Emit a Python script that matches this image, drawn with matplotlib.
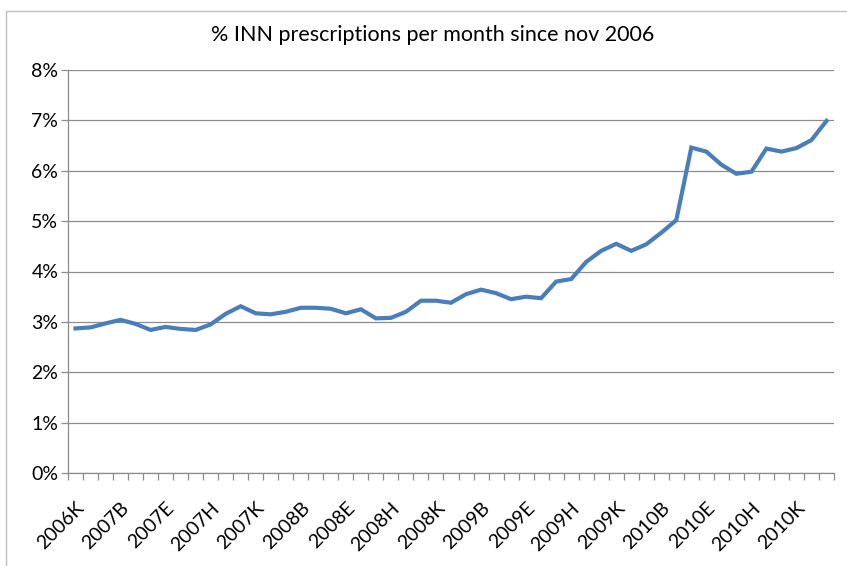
import matplotlib.pyplot as plt
from matplotlib.patches import Rectangle
from matplotlib.ticker import FuncFormatter

# month codes: letter A..L = jan..dec, series starts nov 2006
years = [2006] * 2 + [2007] * 12 + [2008] * 12 + [2009] * 12 + [2010] * 12 + [2011]
letters = list("KL") + list("ABCDEFGHIJKL") * 4 + ["A"]
months = [str(y) + l for y, l in zip(years, letters)]

# % of INN prescriptions
inn_pct = [2.87, 2.89, 2.97, 3.04, 2.96, 2.84, 2.90, 2.86, 2.84, 2.95,
           3.16, 3.31, 3.17, 3.15, 3.20, 3.28, 3.28, 3.26, 3.17, 3.25,
           3.07, 3.08, 3.20, 3.42, 3.42, 3.38, 3.55, 3.64, 3.57, 3.45,
           3.50, 3.47, 3.80, 3.85, 4.19, 4.41, 4.55, 4.41, 4.54, 4.77,
           5.02, 6.46, 6.38, 6.12, 5.94, 5.98, 6.44, 6.38, 6.45, 6.61,
           6.99]

title = "% INN prescriptions per month since nov 2006"

plt.rcParams['font.family'] = ['Lato', 'DejaVu Sans']
grey = "#8c8c8c"

fig = plt.figure(figsize=(8.47, 5.66), dpi=100)
ax = fig.add_axes([68 / 847, 1 - 473 / 566, (834 - 68) / 847, (473 - 70) / 566])

x = list(range(len(inn_pct)))
ax.plot(x, inn_pct, color="#4a7ebb", linewidth=3.0, solid_joinstyle="miter")

ax.set_xlim(-0.5, len(inn_pct) - 0.5)
ax.set_ylim(0, 8)
ax.set_yticks(range(0, 9))
ax.yaxis.set_major_formatter(FuncFormatter(lambda v, p: "%d%%" % v))
ax.grid(axis="y", color=grey, linewidth=0.9)
ax.set_axisbelow(True)

# labels every 3 months at category centres, tick marks between categories
ax.set_xticks(x[::3])
ax.set_xticklabels(months[::3], rotation=45, ha="right", va="top",
                   rotation_mode="anchor", fontsize=14)
ax.set_xticks([i - 0.5 for i in range(len(inn_pct) + 1)], minor=True)
ax.tick_params(axis="x", which="major", length=0, pad=19)
ax.tick_params(axis="x", which="minor", length=5, color=grey, width=0.9)
ax.tick_params(axis="y", length=5, color=grey, width=0.9, labelsize=14, pad=2)

for side in ["top", "right"]:
    ax.spines[side].set_visible(False)
for side in ["left", "bottom"]:
    ax.spines[side].set_color(grey)
    ax.spines[side].set_linewidth(0.9)

fig.text(433 / 847, 1 - 35 / 566, title, ha="center", va="center", fontsize=15.5)

# chart area border
fig.patches.append(Rectangle((6 / 847, -0.05), 1.1, 1 - 11 / 566 + 0.05,
                             transform=fig.transFigure, fill=False,
                             edgecolor="#bfbfbf", linewidth=1))

fig.savefig("out.png", dpi=100)
